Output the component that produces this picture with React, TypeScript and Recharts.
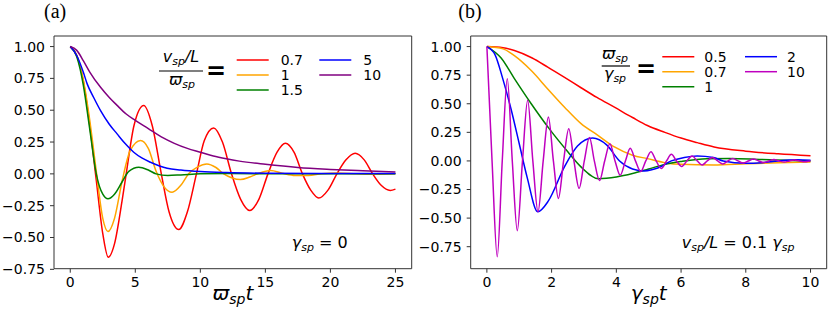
import React from 'react';
import { LineChart, Line, XAxis, YAxis, Legend, ReferenceArea, Label } from 'recharts';

type P = [number, number];

// ---------- Panel (a): gamma_sp = 0, series keyed by (v_sp/L)/varpi_sp ----------
const aXTicks = [0, 5, 10, 15, 20, 25];
const aYTicks = [-0.75, -0.5, -0.25, 0, 0.25, 0.5, 0.75, 1];
const aLabels = ['0.7', '1', '1.5', '5', '10'];
const aColors = ['#ff0000', '#ffa500', '#008000', '#0000ff', '#800080'];

const a07: P[] = [[0,1],[0.5,0.93],[1,0.73],[1.5,0.38],[2,-0.05],[2.5,-0.47],[2.92,-0.655],[3.4,-0.55],[4.0,-0.2],[4.3,0.0],[4.9,0.38],[5.65,0.537],[6.3,0.38],[7.0,0.0],[7.6,-0.3],[8.34,-0.4375],[9.0,-0.3],[9.7,0],[10.3,0.26],[11.03,0.361],[11.7,0.25],[12.4,0],[13.1,-0.2],[13.8,-0.288],[14.5,-0.2],[15.2,0],[15.9,0.17],[16.54,0.24],[17.2,0.17],[17.85,0],[18.5,-0.13],[19.1,-0.19],[19.8,-0.13],[20.5,0],[21.2,0.11],[21.9,0.162],[22.6,0.11],[23.25,0],[23.9,-0.09],[24.6,-0.13],[25,-0.12]];
const a1: P[] = [[0,1],[0.5,0.93],[1,0.74],[1.5,0.42],[2,0.02],[2.5,-0.35],[2.9,-0.453],[3.4,-0.35],[4.0,-0.05],[4.6,0.18],[5.4,0.262],[6.0,0.2],[6.6,0.02],[7.2,-0.1],[7.83,-0.145],[8.5,-0.09],[9.1,0.0],[9.8,0.055],[10.5,0.078],[11.2,0.05],[11.8,0.0],[12.4,-0.03],[13.08,-0.045],[13.8,-0.025],[14.4,0.0],[15.4,0.026],[16.3,0.005],[17.3,-0.012],[18.3,-0.012],[19.3,0.0],[20.5,0.007],[22,0.0],[23,-0.004],[25,0.0]];
const a15: P[] = [[0,1],[0.5,0.92],[1,0.7],[1.5,0.35],[2,0.0],[2.5,-0.16],[2.9,-0.196],[3.4,-0.16],[4.0,-0.06],[4.5,0.02],[5.27,0.052],[6.0,0.03],[6.6,0.0],[7.5,-0.012],[8.5,-0.008],[10,0.0],[12,0.002],[25,0.0]];
const a5: P[] = [[0,1],[0.5,0.93],[1,0.8],[1.3,0.707],[1.8,0.6],[2.33,0.497],[3,0.39],[3.6,0.314],[4.2,0.24],[4.88,0.17],[5.5,0.125],[6.17,0.091],[7.45,0.044],[8.5,0.03],[10,0.018],[12,0.01],[15,0.005],[20,0.003],[25,0.002]];
const a10: P[] = [[0,1],[0.5,0.97],[1,0.89],[1.5,0.8],[2.33,0.68],[3,0.6],[3.58,0.54],[4.3,0.47],[5,0.42],[6,0.355],[7,0.29],[8,0.24],[9,0.2],[10,0.17],[11,0.14],[12,0.118],[13,0.1],[15,0.075],[17.5,0.05],[20,0.035],[22.5,0.024],[25,0.015]];
const aSeries = [a07, a1, a15, a5, a10];

// ---------- Panel (b): v_sp/L = 0.1 gamma_sp, series keyed by varpi_sp/gamma_sp ----------
const bXTicks = [0, 2, 4, 6, 8, 10];
const bYTicks = [-0.75, -0.5, -0.25, 0, 0.25, 0.5, 0.75, 1];
const bLabels = ['0.5', '0.7', '1', '2', '10'];
const bColors = ['#ff0000', '#ffa500', '#008000', '#0000ff', '#bf00bf'];

const b05: P[] = [[0,1],[0.5,0.99],[0.85,0.965],[1.4,0.9],[1.88,0.82],[2.4,0.73],[2.91,0.64],[3.4,0.555],[3.94,0.47],[4.5,0.38],[4.96,0.31],[5.5,0.25],[6,0.2],[6.5,0.16],[7.02,0.122],[8,0.085],[9,0.062],[10,0.045]];
const b07: P[] = [[0,1],[0.5,0.98],[0.85,0.92],[1.37,0.79],[1.88,0.63],[2.4,0.47],[2.91,0.326],[3.43,0.224],[3.94,0.122],[4.5,0.05],[4.96,0.02],[5.5,-0.015],[6,-0.03],[7,-0.035],[8,-0.025],[9,-0.015],[10,-0.01]];
const b1: P[] = [[0,1],[0.44,0.9],[0.85,0.72],[1.37,0.5],[1.93,0.28],[2.5,0.08],[2.9,-0.05],[3.45,-0.155],[4,-0.14],[4.5,-0.11],[5,-0.07],[5.5,-0.03],[6,-0.005],[6.8,0.02],[7.5,0.022],[8.5,0.012],[10,0.0]];
const b2: P[] = [[0,1],[0.25,0.93],[0.49,0.72],[0.75,0.45],[1.0,0.15],[1.25,-0.15],[1.57,-0.445],[1.9,-0.35],[2.4,-0.05],[2.8,0.13],[3.27,0.2],[3.7,0.14],[4.1,0.0],[4.5,-0.07],[4.86,-0.087],[5.3,-0.06],[5.7,0.0],[6.1,0.03],[6.5,0.043],[7,0.03],[7.3,0.0],[8,-0.02],[8.5,-0.015],[9,0.0],[9.6,0.01],[10,0.005]];
const b10: P[] = [[0,1],[0.16,0],[0.32,-0.837],[0.475,0],[0.63,0.718],[0.785,0],[0.94,-0.61],[1.1,0],[1.26,0.53],[1.42,0],[1.58,-0.445],[1.74,0],[1.9,0.385],[2.055,0],[2.21,-0.328],[2.37,0],[2.53,0.282],[2.69,0],[2.85,-0.24],[3.01,0],[3.17,0.205],[3.32,0],[3.48,-0.172],[3.64,0],[3.8,0.15],[3.96,0],[4.12,-0.125],[4.28,0],[4.43,0.11],[4.59,0],[4.75,-0.092],[4.91,0],[5.07,0.08],[5.23,0],[5.39,-0.066],[5.55,0],[5.7,0.058],[5.86,0],[6.02,-0.048],[6.18,0],[6.34,0.042],[6.5,0],[6.65,-0.035],[6.81,0],[6.97,0.03],[7.13,0],[7.29,-0.026],[7.45,0],[7.6,0.022],[7.76,0],[7.92,-0.019],[8.08,0],[8.24,0.016],[8.4,0],[8.55,-0.014],[8.71,0],[8.87,0.012],[9.03,0],[9.19,-0.01],[9.35,0],[9.5,0.009],[9.66,0],[9.82,-0.007],[9.98,0],[10,0.001]];
const bSeries = [b05, b07, b1, b2, b10];

const FONT = "'DejaVu Sans', sans-serif";
const SERIF = "'Liberation Serif', 'Times New Roman', serif";
const toData = (pts: P[]) => pts.map(([t, y]) => ({ t, y }));
const fmtY = (v: number) => (v < 0 ? '\u2212' : '') + Math.abs(v).toFixed(2);
const fmtX = (v: number) => String(v);
const tickStyle = { fontSize: 14, fontFamily: FONT, fill: '#000' };

const LegendA = () => (
  <svg width={415} height={316} style={{ position: 'absolute', left: 0, top: 0, pointerEvents: 'none' }}>
    <g fontFamily={FONT} fill="#000">
      <text x={181} y={62} textAnchor="middle" fontSize={16} fontStyle="italic">
        <tspan>v</tspan><tspan fontSize={11} dy={3}>sp</tspan><tspan dy={-3}>/L</tspan>
      </text>
      <line x1={159} x2={203} y1={71} y2={71} stroke="#000" strokeWidth={1.2} />
      <text x={182} y={85} textAnchor="middle" fontSize={16} fontStyle="italic">
        <tspan>{'\u03d6'}</tspan><tspan fontSize={11} dy={3}>sp</tspan>
      </text>
      <text x={216} y={79} textAnchor="middle" fontSize={24} fontWeight="bold">=</text>
      {[0, 1, 2, 3, 4].map((i) => {
        const col = i < 3 ? 0 : 1;
        const row = i < 3 ? i : i - 3;
        const y = 60 + row * 15;
        const x0 = col === 0 ? 236.7 : 319.3;
        return (
          <g key={i}>
            <line x1={x0} x2={x0 + 32} y1={y} y2={y} stroke={aColors[i]} strokeWidth={1.5} />
            <text x={x0 + 44} y={y + 5} fontSize={14}>{aLabels[i]}</text>
          </g>
        );
      })}
    </g>
  </svg>
);

const LegendB = () => (
  <svg width={415} height={316} style={{ position: 'absolute', left: 0, top: 0, pointerEvents: 'none' }}>
    <g fontFamily={FONT} fill="#000">
      <text x={200} y={59} textAnchor="middle" fontSize={16} fontStyle="italic">
        <tspan>{'\u03d6'}</tspan><tspan fontSize={11} dy={3}>sp</tspan>
      </text>
      <line x1={186.7} x2={215} y1={66} y2={66} stroke="#000" strokeWidth={1.2} />
      <text x={200} y={79} textAnchor="middle" fontSize={16} fontStyle="italic">
        <tspan>{'\u03b3'}</tspan><tspan fontSize={11} dy={3}>sp</tspan>
      </text>
      <text x={231} y={76.5} textAnchor="middle" fontSize={24} fontWeight="bold">=</text>
      {[0, 1, 2, 3, 4].map((i) => {
        const col = i < 3 ? 0 : 1;
        const row = i < 3 ? i : i - 3;
        const y = 56.7 + row * 15;
        const x0 = col === 0 ? 247.3 : 330;
        return (
          <g key={i}>
            <line x1={x0} x2={x0 + 32} y1={y} y2={y} stroke={bColors[i]} strokeWidth={1.5} />
            <text x={x0 + 42} y={y + 5} fontSize={14}>{bLabels[i]}</text>
          </g>
        );
      })}
    </g>
  </svg>
);

const xLabelA = (props: any) => {
  const vb = props.viewBox || {};
  const cx = vb.x + vb.width / 2;
  return (
    <text x={cx} y={300} textAnchor="middle" fontFamily={FONT} fontSize={20} fontStyle="italic" fill="#000">
      <tspan>{'\u03d6'}</tspan><tspan fontSize={14} dy={4}>sp</tspan><tspan dy={-4}>t</tspan>
    </text>
  );
};
const xLabelB = (props: any) => {
  const vb = props.viewBox || {};
  const cx = vb.x + vb.width / 2;
  return (
    <text x={cx} y={300} textAnchor="middle" fontFamily={FONT} fontSize={20} fontStyle="italic" fill="#000">
      <tspan>{'\u03b3'}</tspan><tspan fontSize={14} dy={4}>sp</tspan><tspan dy={-4}>t</tspan>
    </text>
  );
};

const Panel = ({ left, series, colors, xTicks, yTicks, xDomain, yDomain, yAxisW, xLabel, legend }: any) => (
  <div style={{ position: 'absolute', left, top: 0, width: 415, height: 316 }}>
    <LineChart width={415} height={316} margin={{ top: 36, right: 3.3, bottom: 17.3, left: 0 }}>
      <XAxis
        dataKey="t"
        type="number"
        domain={xDomain}
        ticks={xTicks}
        interval={0}
        allowDataOverflow
        tickFormatter={fmtX}
        tick={tickStyle}
        tickSize={4}
        tickMargin={4}
        height={30}
        axisLine={false}
        tickLine={{ stroke: '#333' }}
      >
        <Label content={xLabel} />
      </XAxis>
      <YAxis
        type="number"
        domain={yDomain}
        ticks={yTicks}
        interval={0}
        allowDataOverflow
        tickFormatter={fmtY}
        tick={tickStyle}
        tickSize={4}
        tickMargin={5}
        width={yAxisW}
        axisLine={false}
        tickLine={{ stroke: '#333' }}
      />
      <ReferenceArea x1={xDomain[0]} x2={xDomain[1]} y1={yDomain[0]} y2={yDomain[1]} fill="none" fillOpacity={0} stroke="#333" strokeWidth={1} />
      {series.map((s: P[], i: number) => (
        <Line
          key={i}
          data={toData(s)}
          dataKey="y"
          type="monotone"
          stroke={colors[i]}
          strokeWidth={1.5}
          dot={false}
          isAnimationActive={false}
        />
      ))}
      <Legend layout="horizontal" verticalAlign="middle" align="center" content={legend} wrapperStyle={{ position: 'absolute', left: 0, top: 0, width: 415, height: 316 }} />
    </LineChart>
  </div>
);

export default function App() {
  return (
    <div style={{ position: 'fixed', left: 0, top: 0, width: 830, height: 316, background: '#fff', overflow: 'hidden' }}>
      <Panel left={0} series={aSeries} colors={aColors} xTicks={aXTicks} yTicks={aYTicks} xDomain={[-1.25, 26.25]} yDomain={[-0.745, 1.083]} yAxisW={54} xLabel={xLabelA} legend={() => <LegendA />} />
      <Panel left={415} series={bSeries} colors={bColors} xTicks={bXTicks} yTicks={bYTicks} xDomain={[-0.5, 10.5]} yDomain={[-0.9425, 1.0925]} yAxisW={55.7} xLabel={xLabelB} legend={() => <LegendB />} />
      <svg width={830} height={316} style={{ position: 'absolute', left: 0, top: 0, pointerEvents: 'none' }}>
        <text x={44} y={18} fontFamily={SERIF} fontSize={20} fill="#000">(a)</text>
        <text x={458.3} y={18} fontFamily={SERIF} fontSize={20} fill="#000">(b)</text>
        <text x={291.7} y={248} fontFamily={FONT} fontSize={16} fill="#000">
          <tspan fontStyle="italic">{'\u03b3'}</tspan><tspan fontStyle="italic" fontSize={11} dy={3}>sp</tspan><tspan dy={-3}>{' = 0'}</tspan>
        </text>
        <text x={681.7} y={248} fontFamily={FONT} fontSize={16} fill="#000">
          <tspan fontStyle="italic">v</tspan><tspan fontStyle="italic" fontSize={11} dy={3}>sp</tspan><tspan dy={-3} fontStyle="italic">/L</tspan><tspan>{' = 0.1 '}</tspan><tspan fontStyle="italic">{'\u03b3'}</tspan><tspan fontStyle="italic" fontSize={11} dy={3}>sp</tspan>
        </text>
      </svg>
    </div>
  );
}
